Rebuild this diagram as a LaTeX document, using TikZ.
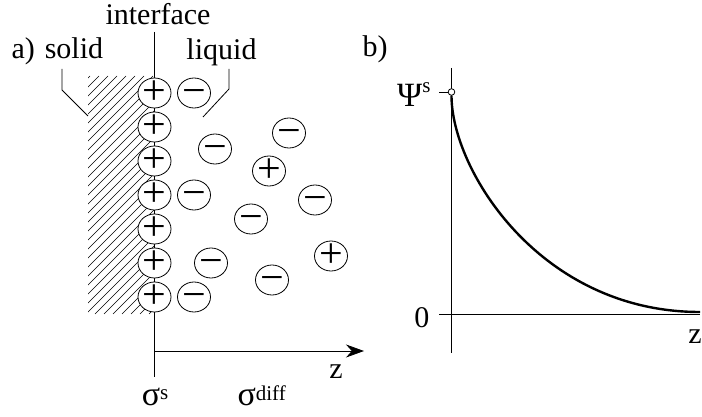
\documentclass[tikz,border=0pt]{standalone}
\usepackage{fontspec}
\setmainfont{Liberation Serif}
\usetikzlibrary{arrows.meta, shapes.geometric}
\newcommand{\upidx}[2]{\raisebox{#1}{\fontsize{21}{21}\selectfont #2}}

\begin{document}
\begin{tikzpicture}[x=1pt, y=-1pt, font=\fontsize{30}{36}\selectfont,
    thin line/.style={line width=0.8pt},
    ion/.style={draw, ellipse, fill=white, line width=0.8pt, minimum width=33pt,
        minimum height=30pt, inner sep=-4pt, font=\fontsize{42}{42}\selectfont},
    curve/.style={line width=2.4pt}]
    \useasboundingbox (0,0) rectangle (702,417);
    % labels of panel a
    \node[anchor=base west] (lbla) at (8,59) {a)};
    \node[anchor=base] (solid) at (74,59) {solid};
    \node[anchor=base] (iface) at (158,25) {interface};
    \node[anchor=base] (liquid) at (221.5,60) {liquid};
    \node[anchor=base] (za) at (336,378) {z};
    \node[anchor=base] (sigs) at (155,405) {\fontsize{34}{36}\selectfont σ\upidx{6pt}{s}};
    \node[anchor=base west] (sigd) at (234,405) {\fontsize{34}{36}\selectfont σ\upidx{5pt}{diff}};
    % hatched solid
    \begin{scope}
        \clip (88,76) rectangle (154.5,314);
        \foreach \c in {-245,-236,...,70}
            \draw[line width=0.6pt] (88+\c,314) -- ++(238,-238);
    \end{scope}
    % interface and leaders
    \coordinate (iftop) at (154.5,32);
    \coordinate (ifbot) at (154.5,377);
    \draw[thin line] (iftop) -- (ifbot);
    \coordinate (solidtop) at (62,69);
    \coordinate (solidend) at (88,116);
    \draw[thin line] (solidtop) -- (62,90) -- (solidend);
    \coordinate (liqtop) at (229,69);
    \coordinate (liqend) at (203,117);
    \draw[thin line] (liqtop) -- (229,89) -- (liqend);
    % z axis of panel a
    \coordinate (zastart) at (154.5,351);
    \coordinate (zatip) at (364,351);
    \draw[thin line, -{Stealth[length=18pt, width=13pt]}] (zastart) -- (zatip);
    % charges on the interface
    \foreach \i/\y in {1/93, 2/127, 3/161, 4/195, 5/229, 6/263, 7/297}
        \node[ion] (pos\i) at (154.5,\y) {+};
    % ions in the liquid: name / x / y / sign
    \foreach \n/\x/\y/\s in {%
        m1/194/93/−, m2/289/133/−, m3/215/149/−, p1/269/171/+,
        m4/194/195/−, m5/315/200/−, m6/251/219/−, p2/331/256/+,
        m7/211/263/−, m8/272/280/−, m9/194/297/−%
    }{
        \node[ion] (\n) at (\x,\y) {\vphantom{+}\s};
    }
    % panel b
    \node[anchor=base west] (lblb) at (359,57) {b)};
    \node[anchor=base east] (psi) at (434,107) {\fontsize{34}{36}\selectfont Ψ\upidx{14pt}{s}};
    \node[anchor=base east] (zero) at (433,327) {0};
    \node[anchor=base] (zb) at (695,343) {z};
    \coordinate (vtop) at (451.5,68);
    \coordinate (vbot) at (451.5,353);
    \draw[thin line] (vtop) -- (vbot);
    \coordinate (hleft) at (439,314);
    \coordinate (hright) at (700,314);
    \draw[thin line] (hleft) -- (hright);
    \node[circle, draw, fill=white, thin line, minimum size=6.6pt, inner sep=0pt]
        (psi0) at (451.5,92) {};
    \coordinate (psitick) at (439,92);
    \draw[thin line] (psitick) -- (psi0.west);
    \coordinate (zend) at (700,312);
    \draw[curve] (psi0.south) .. controls (451.5,170) and (540,312) .. (zend);
\end{tikzpicture}
\end{document}
